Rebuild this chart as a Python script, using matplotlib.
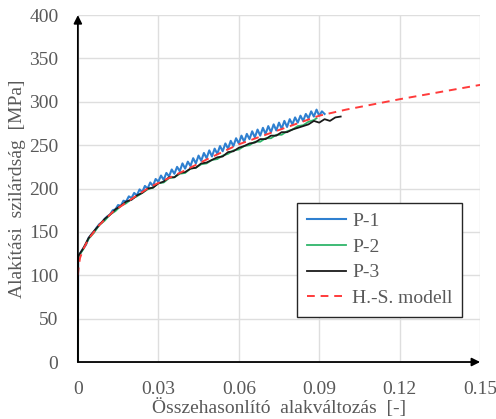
import matplotlib
matplotlib.use('Agg')
import matplotlib.pyplot as plt
import numpy as np

# P-1 measured curve
eps_p1 = [0.0, 0.0001,
          0.001, 0.002, 0.003, 0.004, 0.005, 0.006, 0.007, 0.008, 0.009, 0.010,
          0.011, 0.012, 0.013, 0.014, 0.015, 0.016, 0.017, 0.018, 0.019, 0.020,
          0.021, 0.022, 0.023, 0.024, 0.025, 0.026, 0.027, 0.028, 0.029, 0.030,
          0.031, 0.032, 0.033, 0.034, 0.035, 0.036, 0.037, 0.038, 0.039, 0.040,
          0.041, 0.042, 0.043, 0.044, 0.045, 0.046, 0.047, 0.048, 0.049, 0.050,
          0.051, 0.052, 0.053, 0.054, 0.055, 0.056, 0.057, 0.058, 0.059, 0.060,
          0.061, 0.062, 0.063, 0.064, 0.065, 0.066, 0.067, 0.068, 0.069, 0.070,
          0.071, 0.072, 0.073, 0.074, 0.075, 0.076, 0.077, 0.078, 0.079, 0.080,
          0.081, 0.082, 0.083, 0.084, 0.085, 0.086, 0.087, 0.088, 0.089, 0.090,
          0.091, 0.092]
sig_p1 = [0, 120,
          126, 131, 135, 143, 147, 150, 155, 159, 161, 165,
          168, 170, 175, 176, 181, 180, 186, 185, 191, 189,
          195, 192, 199, 196, 203, 200, 207, 203, 211, 208,
          215, 210, 218, 214, 222, 217, 225, 220, 229, 223,
          231, 226, 235, 229, 238, 232, 241, 235, 244, 237,
          246, 240, 249, 243, 252, 246, 255, 249, 258, 252,
          261, 254, 263, 257, 266, 259, 268, 261, 270, 263,
          272, 265, 274, 267, 276, 269, 278, 271, 280, 274,
          282, 276, 284, 278, 286, 281, 289, 283, 291, 284,
          289, 286]

# P-2 measured curve
eps_p2 = [0.0, 0.0001, 0.002, 0.004, 0.006, 0.008, 0.010, 0.012, 0.014, 0.016,
          0.018, 0.020, 0.022, 0.024, 0.026, 0.028, 0.030, 0.032, 0.034, 0.036,
          0.038, 0.040, 0.042, 0.044, 0.046, 0.048, 0.050, 0.052, 0.054, 0.056,
          0.058, 0.060, 0.062, 0.064, 0.066, 0.068, 0.070, 0.072, 0.074, 0.076,
          0.078, 0.080, 0.082, 0.084, 0.086, 0.088, 0.089]
sig_p2 = [0, 121, 130, 142, 149, 158, 163, 170, 174, 180,
          183, 188, 191, 195, 199, 201, 206, 207, 212, 213,
          217, 218, 223, 224, 228, 229, 233, 234, 238, 240,
          244, 245, 249, 250, 254, 254, 258, 258, 262, 262,
          266, 268, 272, 273, 277, 279, 281]

# P-3 measured curve
eps_p3 = [0.0, 0.0001, 0.002, 0.004, 0.006, 0.008, 0.010, 0.012, 0.014, 0.016,
          0.018, 0.020, 0.022, 0.024, 0.026, 0.028, 0.030, 0.032, 0.034, 0.036,
          0.038, 0.040, 0.042, 0.044, 0.046, 0.048, 0.050, 0.052, 0.054, 0.056,
          0.058, 0.060, 0.062, 0.064, 0.066, 0.068, 0.070, 0.072, 0.074, 0.076,
          0.078, 0.080, 0.082, 0.084, 0.086, 0.088, 0.090, 0.092, 0.094, 0.096,
          0.098]
sig_p3 = [0, 122, 131, 143, 151, 158, 165, 170, 176, 180,
          185, 187, 192, 195, 200, 201, 206, 208, 213, 213,
          218, 219, 223, 224, 229, 230, 233, 236, 237, 242,
          243, 247, 249, 252, 253, 257, 257, 261, 261, 265,
          265, 268, 270, 272, 274, 278, 276, 280, 278, 282,
          283]

# H.-S. model curve
eps_hs = [0.0, 0.0003, 0.0008, 0.002, 0.004, 0.008, 0.013, 0.019, 0.027, 0.038,
          0.049, 0.060, 0.070, 0.080, 0.090, 0.100, 0.110, 0.120, 0.130, 0.140,
          0.150]
sig_hs = [100, 110, 120, 130, 142, 158, 173, 186, 202, 218,
          235, 251, 262, 273, 284, 291, 297, 303, 308.5, 314, 319.5]

x_ticks = [0, 0.03, 0.06, 0.09, 0.12, 0.15]
x_ticklabels = ['0', '0.03', '0.06', '0.09', '0.12', '0.15']
y_ticks = [0, 50, 100, 150, 200, 250, 300, 350, 400]

plt.rcParams['font.family'] = ['Liberation Serif', 'DejaVu Serif']
grey = '#595959'
fs = 14

fig = plt.figure(figsize=(4.96, 4.19), dpi=100)
ax = fig.add_axes([0.157, 0.136, 0.811, 0.828])

ax.plot(eps_p1, sig_p1, color='#2f80d0', lw=1.5, label='P-1')
ax.plot(eps_p2, sig_p2, color='#2fb56a', lw=1.3, label='P-2')
ax.plot(eps_p3, sig_p3, color='#1a1a1a', lw=1.3, label='P-3')
ax.plot(eps_hs, sig_hs, color='#ff3b3b', lw=1.4, ls=(0, (4, 3)), label='H.-S. modell')

ax.set_xlim(0, 0.15)
ax.set_ylim(0, 400)
ax.set_xticks(x_ticks)
ax.set_xticklabels(x_ticklabels)
ax.set_yticks(y_ticks)
ax.tick_params(length=0, labelsize=fs, labelcolor=grey)
ax.tick_params(axis='y', pad=14)
ax.tick_params(axis='x', pad=14)
ax.grid(True, color='#dedede', lw=1)
ax.set_axisbelow(True)
for s in ax.spines.values():
    s.set_visible(False)

# axes with arrow heads
ax.annotate('', xy=(0.15, 0), xytext=(0, 0), annotation_clip=False,
            arrowprops=dict(arrowstyle='-|>', color='black', lw=1.3,
                            mutation_scale=12, shrinkA=0, shrinkB=0))
ax.annotate('', xy=(0, 400), xytext=(0, 0), annotation_clip=False,
            arrowprops=dict(arrowstyle='-|>', color='black', lw=1.3,
                            mutation_scale=12, shrinkA=0, shrinkB=0))

ax.set_xlabel('Összehasonlító  alakváltozás  [-]', fontsize=fs, color=grey, labelpad=0)
ax.set_ylabel('Alakítási  szilárdság  [MPa]', fontsize=fs, color=grey, labelpad=2)

leg = ax.legend(loc='lower right', bbox_to_anchor=(0.955, 0.13), fontsize=fs,
                fancybox=False, framealpha=1, edgecolor='#262626',
                handlelength=2.0, handletextpad=0.3, borderpad=0.5,
                labelspacing=0.42, borderaxespad=0)
leg.get_frame().set_linewidth(1.0)
for t in leg.get_texts():
    t.set_color(grey)

fig.savefig('out.png', dpi=100)
